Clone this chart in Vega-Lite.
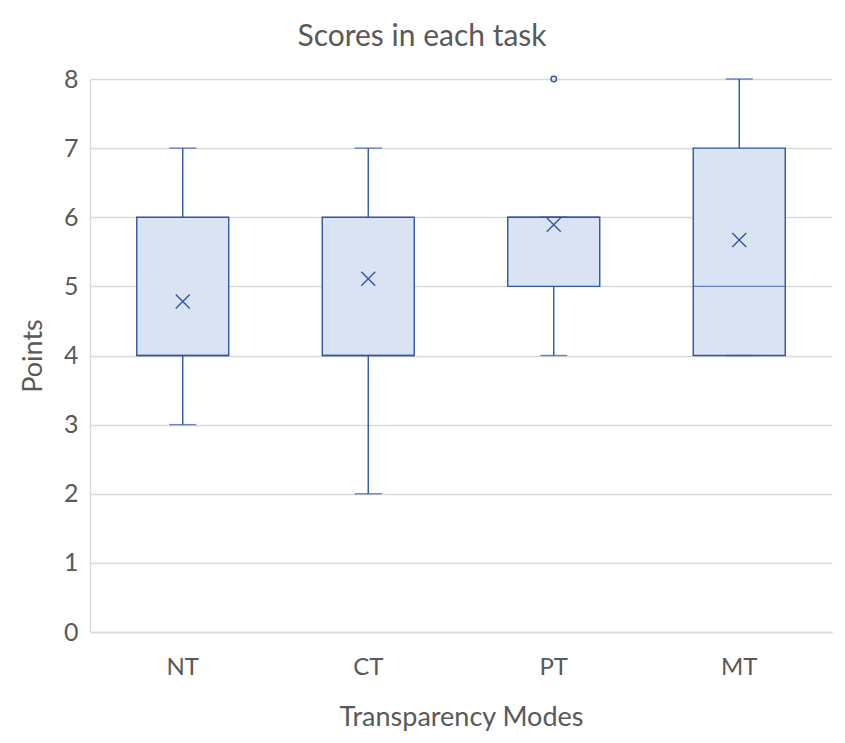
{
  "$schema": "https://vega.github.io/schema/vega-lite/v6.json",
  "width": 742,
  "height": 553,
  "autosize": "none",
  "padding": {"left": 90, "top": 79, "right": 13, "bottom": 111},
  "background": "white",
  "title": {"text": "Scores in each task", "font": "Lato", "fontSize": 30, "fontWeight": "normal", "color": "#595959", "dx": -39, "offset": 15},
  "datasets": {
    "stats": [
      {"mode": "NT", "min": 3, "q1": 4, "median": 4, "q3": 6, "max": 7, "mean": 4.78},
      {"mode": "CT", "min": 2, "q1": 4, "median": 4, "q3": 6, "max": 7, "mean": 5.11},
      {"mode": "PT", "min": 4, "q1": 5, "median": 6, "q3": 6, "max": 6, "mean": 5.89},
      {"mode": "MT", "min": 4, "q1": 4, "median": 5, "q3": 7, "max": 8, "mean": 5.67}
    ],
    "outliers": [
      {"mode": "PT", "value": 8}
    ]
  },
  "data": {"name": "stats"},
  "encoding": {
    "x": {"field": "mode", "type": "nominal", "sort": ["NT", "CT", "PT", "MT"], "title": "Transparency Modes",
      "axis": {"labelAngle": 0, "domainColor": "#d9d9d9", "domainWidth": 1.3, "ticks": false, "labelPadding": 23, "titlePadding": 25, "labelFontSize": 24}}
  },
  "layer": [
    {"mark": {"type": "rule", "color": "#2f55a4", "strokeWidth": 1.4},
     "encoding": {"y": {"field": "min", "type": "quantitative", "scale": {"domain": [0, 8]}, "title": "Points",
        "axis": {"values": [0,1,2,3,4,5,6,7,8], "labelOverlap": false, "grid": true, "gridColor": "#d9d9d9", "gridWidth": 1.3, "domainColor": "#d9d9d9", "domainWidth": 1.3, "ticks": false, "labelPadding": 12, "titlePadding": 16, "labelFontSize": 25}},
       "y2": {"field": "max"}}},
    {"mark": {"type": "bar", "size": 92, "fill": "#dae3f3", "stroke": "#2f55a4", "strokeWidth": 1.4},
     "encoding": {"y": {"field": "q1", "type": "quantitative", "axis": {"values": [0,1,2,3,4,5,6,7,8], "labelOverlap": false}}, "y2": {"field": "q3"}}},
    {"mark": {"type": "tick", "color": "#2f55a4", "size": 92, "thickness": 1.4},
     "encoding": {"y": {"field": "median", "type": "quantitative", "axis": {"values": [0,1,2,3,4,5,6,7,8], "labelOverlap": false}}}},
    {"mark": {"type": "tick", "color": "#2f55a4", "size": 27, "thickness": 1.4},
     "encoding": {"y": {"field": "min", "type": "quantitative", "axis": {"values": [0,1,2,3,4,5,6,7,8], "labelOverlap": false}}}},
    {"mark": {"type": "tick", "color": "#2f55a4", "size": 27, "thickness": 1.4},
     "encoding": {"y": {"field": "max", "type": "quantitative", "axis": {"values": [0,1,2,3,4,5,6,7,8], "labelOverlap": false}}}},
    {"mark": {"type": "point", "shape": "M-1,-1L1,1M1,-1L-1,1", "filled": false, "stroke": "#2f55a4", "strokeWidth": 1.4, "size": 196, "opacity": 1},
     "encoding": {"y": {"field": "mean", "type": "quantitative", "axis": {"values": [0,1,2,3,4,5,6,7,8], "labelOverlap": false}}}},
    {"data": {"name": "outliers"},
     "mark": {"type": "point", "shape": "circle", "filled": false, "stroke": "#2f55a4", "strokeWidth": 1.4, "size": 30, "opacity": 1},
     "encoding": {"y": {"field": "value", "type": "quantitative", "axis": {"values": [0,1,2,3,4,5,6,7,8], "labelOverlap": false}}}}
  ],
  "config": {
    "view": {"stroke": null},
    "font": "Lato",
    "axis": {"labelFont": "Lato", "labelColor": "#595959", "titleFont": "Lato", "titleFontSize": 27, "titleFontWeight": "normal", "titleColor": "#595959"}
  }
}
